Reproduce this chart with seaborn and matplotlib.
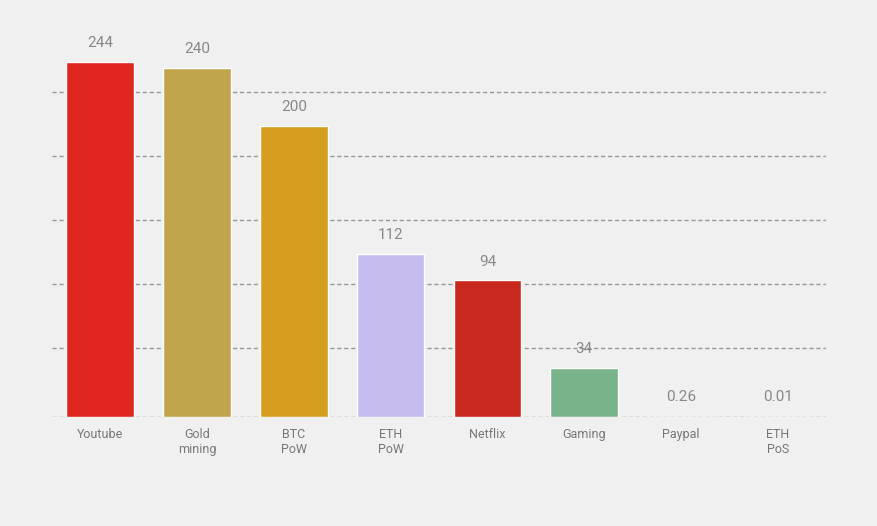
import pandas as pd
import numpy as np
import seaborn as sns
from matplotlib import pyplot as plt

sns.set_style("white")
plt.rcParams['font.family'] = ['Roboto', 'DejaVu Sans']

categories = ["Youtube", "Gold\nmining", "BTC\nPoW", "ETH\nPoW", "Netflix", "Gaming", "Paypal", "ETH\nPoS"]
values = [244, 240, 200, 112, 94, 34, 0.26, 0.01]
labels = ["244", "240", "200", "112", "94", "34", "0.26", "0.01"]
colors = ["#ff0a00", "#d4af3a", "#f2a900", "#c2b4f7", "#e50f00", "#6fbd86", "#c8c0ee", "#c8c0ee"]

df = pd.DataFrame({"cat": categories, "val": values})

bg = "#f0f0f0"
fig = plt.figure(figsize=(8.78, 5.26), dpi=100, facecolor=bg)
ax = fig.add_axes([0.059, 0.207, 0.882, 0.72], facecolor=bg)

# gridlines (dashed)
for g in [0, 47.5, 91.5, 135.5, 179.5, 223.5]:
    ax.axhline(g, color="#999999", ls=(0, (3, 2)), lw=1, zorder=0)

sns.barplot(data=df, x="cat", y="val", hue="cat", palette=colors, legend=False,
            width=0.7, ax=ax, zorder=2)
ax.set_xlim(-0.5, 7.5)
ax.set_ylim(0, 260)
for i, (v, t) in enumerate(zip(values, labels)):
    ax.text(i, max(v, 1) + 8, t, ha="center", va="bottom", color="#888888", fontsize=11)

ax.set_xlabel("")
ax.set_ylabel("")
ax.set_yticks([])
ax.tick_params(axis="x", length=0, labelsize=9, labelcolor="#777777", pad=8)
sns.despine(ax=ax, left=True, bottom=True)
fig.savefig("out.png", dpi=100, facecolor=bg)
